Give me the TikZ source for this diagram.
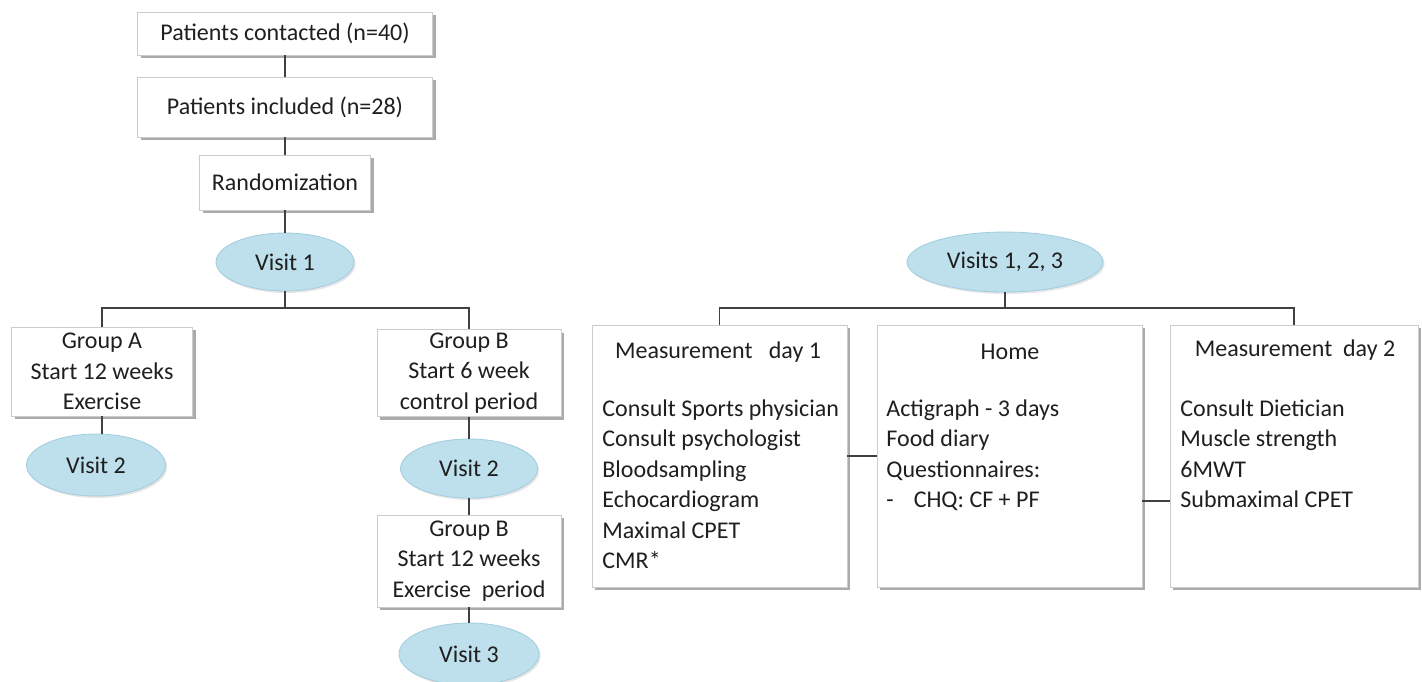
\documentclass[tikz,border=0pt]{standalone}
\usepackage{fontspec}
\setmainfont{Carlito}
\usepackage{tikz}
\usetikzlibrary{shapes.geometric}
\usetikzlibrary{shadows}
\usetikzlibrary{positioning}
\definecolor{visitfill}{RGB}{189,224,236}
\definecolor{visitdraw}{RGB}{160,204,222}
\definecolor{linkgrey}{RGB}{64,64,64}
\tikzset{box/.style ={draw=black!20, fill=white, inner sep=0pt, align=center, drop shadow={shadow xshift=1.5pt, shadow yshift=-1.5pt, opacity=.55, fill=black!60}}}
\tikzset{visit/.style ={ellipse, draw=visitdraw, fill=visitfill, inner sep=0pt, drop shadow={shadow xshift=.8pt, shadow yshift=-1pt, opacity=.2}}}
\tikzset{items/.style ={align=left, inner sep=0pt, anchor=north west}}
\tikzset{link/.style ={draw=linkgrey, line width=.7pt}}

\begin{document}
\begin{tikzpicture}[x=.5pt, y=-.5pt, every node/.style={font=\fontsize{12}{15.25}\selectfont, text=black!88}]
\useasboundingbox (0,0) rectangle (1422,681);
% study flow
\node [box, minimum width=147.5pt, minimum height=21.5pt] (pc) at (285,33.5) {Patients contacted (n=40)};
\node [box, minimum width=147.5pt, minimum height=30pt] (pi) at (285,107) {Patients included (n=28)};
\node [box, minimum width=85.5pt, minimum height=27.5pt] (rnd) at (285,182.5) {Randomization};
\node [visit, minimum width=69pt, minimum height=29pt] (v1) at (285,262) {Visit 1};
\node [box, minimum width=90.5pt, minimum height=44.5pt] (ga) at (102,371.5) {Group A\\Start 12 weeks\\Exercise};
\node [visit, minimum width=69.5pt, minimum height=31pt] (va) at (96,465) {Visit 2};
\node [box, minimum width=92pt, minimum height=43.5pt] (gb) at (469,373) {Group B\\Start 6 week\\control period};
\node [visit, minimum width=68.5pt, minimum height=29.5pt] (vb) at (469,468.5) {Visit 2};
\node [box, minimum width=92pt, minimum height=46pt] (gc) at (469,561) {Group B\\Start 12 weeks\\Exercise~ period};
\node [visit, minimum width=70pt, minimum height=31pt] (vc) at (469,654) {Visit 3};
\coordinate (j1) at (285,308);
\draw [link] (pc) -- (pi);
\draw [link] (pi) -- (rnd);
\draw [link] (rnd) -- (v1);
\draw [link] (v1) -- (j1);
\draw [link] (ga.north) |- (j1) -| (gb.north);
\draw [link] (ga.south) -- (ga.south |- va.north);
\draw [link] (gb) -- (vb);
\draw [link] (vb) -- (gc);
\draw [link] (gc) -- (vc);
% measurements
\node [visit, minimum width=98pt, minimum height=30pt] (vs) at (1005,262) {Visits 1, 2, 3};
\node [box, minimum width=127.5pt, minimum height=131pt] (m1) at (719.5,456) {};
\node [box, minimum width=132.5pt, minimum height=131pt] (hm) at (1009.5,456) {};
\node [box, minimum width=124pt, minimum height=131pt] (m2) at (1294,456) {};
\node (t1) at (718,352) {Measurement~~~day 1};
\node (t2) at (1010,352) {Home};
\node (t3) at (1295,350) {Measurement~~day 2};
\node [items] (l1) at (602,399) {Consult Sports physician\\Consult psychologist\\Bloodsampling\\Echocardiogram\\Maximal CPET\\CMR{\large*}};
\node [items] (l2) at (886,399) {Actigraph - 3 days\\Food diary\\Questionnaires:\\-\hspace{10pt}CHQ: CF + PF};
\node [items] (l3) at (1180,399) {Consult Dietician\\Muscle strength\\6MWT\\Submaximal CPET};
\coordinate (j2) at (1005,308);
\draw [link] (vs) -- (j2);
\draw [link] (m1.north) |- (j2) -| (m2.north);
\draw [link] (m1) -- (hm);
\draw [link] ([yshift=-22.5pt]hm.east) -- ([yshift=-22.5pt]m2.west);
\end{tikzpicture}
\end{document}
